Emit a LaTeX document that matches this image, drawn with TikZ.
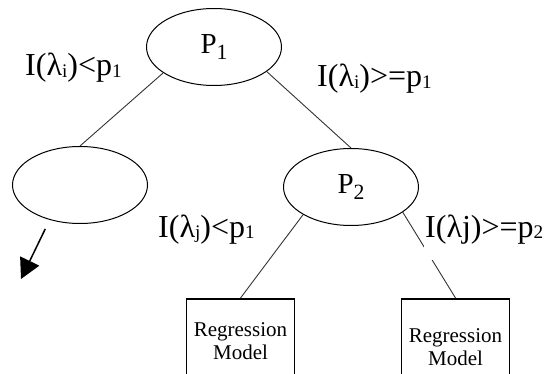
\documentclass[tikz,border=0pt]{standalone}
\usepackage{fontspec}
\setmainfont{Liberation Serif}
\usetikzlibrary{shapes.geometric,arrows.meta}
% indices
\newcommand{\lo}[1]{\raisebox{-0.04em}{\scalebox{0.6}{#1}}}
\newcommand{\idx}[1]{\raisebox{-0.24em}{\scalebox{0.75}{#1}}}
\tikzset{
  split/.style={ellipse, draw, line width=1pt, minimum width=135pt,
    minimum height=77pt, inner sep=0pt, font=\fontsize{29}{32}\selectfont},
  model/.style={rectangle, draw, line width=1.5pt, minimum width=108pt,
    minimum height=85pt, anchor=north, align=center,
    font=\fontsize{21}{23}\selectfont},
  cond/.style={anchor=base west, inner sep=0pt,
    font=\fontsize{32}{36}\selectfont},
  edge/.style={line width=0.9pt, draw=black!80},
}
\begin{document}
\begin{tikzpicture}[x=1pt,y=-1pt]
  \useasboundingbox (0,0) rectangle (551,374);
  \clip (0,0) rectangle (551,374);
  % split nodes
  \node[split] (p1) at (214,47) {P\idx{1}};
  \node[split] (leaf) at (80,185) {};
  \node[split] (p2) at (351,187) {P\idx{2}};
  % models
  \node[model] (m1) at (240.5,298) {Regression\\Model};
  \node[model, minimum height=97pt] (m2) at (455.5,298) {Regression\\Model};
  \coordinate (out) at (21,279);

  % edges
  \draw[edge] (p1.207) -- (leaf.north);
  \draw[edge] (p1.335) -- (p2.north);
  \draw[edge] (p2.210) -- (m1.north);
  \draw[edge] (p2.334) -- (m2.north);
  \draw[line width=1.5pt, -{Triangle[length=20pt,width=21pt]},
    shorten <=10pt] (leaf.229) -- (out);

  % conditions
  \node[cond] (c1) at (25,76) {I(λ\lo{i})<p\lo{1}};
  \node[cond] (c2) at (317,87) {I(λ\lo{i})>=p\lo{1}};
  \node[cond] (c3) at (158,237) {I(λ\lo{j})<p\lo{1}};
  \node[cond, fill=white, inner xsep=1pt, inner ysep=2pt, text depth=21pt]
    (c4) at (424,237) {I(λj)>=p\lo{2}};
\end{tikzpicture}
\end{document}
